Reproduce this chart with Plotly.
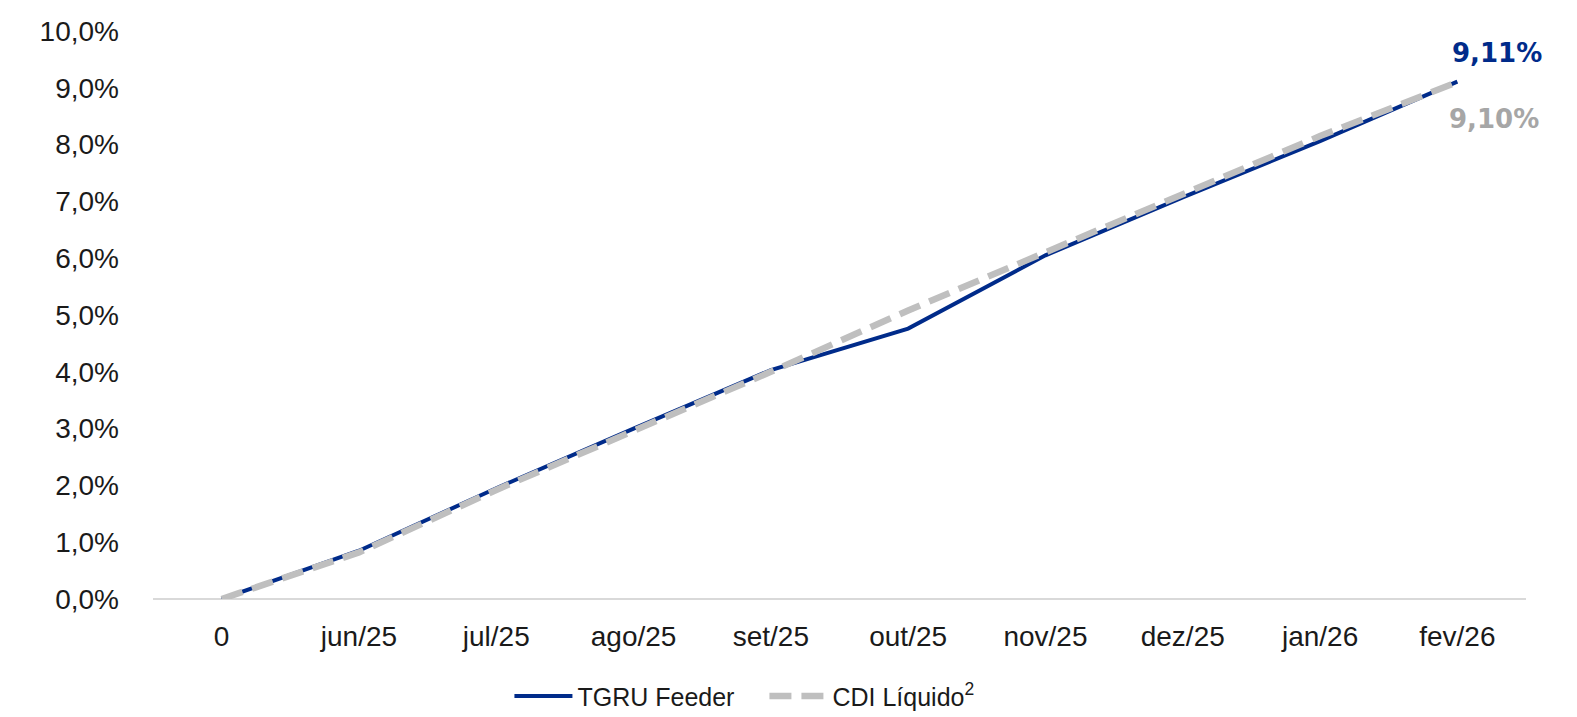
import plotly.graph_objects as go

categories = ["0", "jun/25", "jul/25", "ago/25", "set/25", "out/25", "nov/25", "dez/25", "jan/26", "fev/26"]
tgru = [0.0, 0.85, 1.95, 3.0, 4.03, 4.76, 6.05, 7.07, 8.06, 9.11]
cdi = [0.0, 0.82, 1.92, 2.95, 4.0, 5.08, 6.1, 7.15, 8.15, 9.10]
y_ticks = [0, 1, 2, 3, 4, 5, 6, 7, 8, 9, 10]
y_tick_labels = [f"{v},0%" for v in y_ticks]

NAVY = "#002B8A"
GREY = "#BFBFBF"
FONT = "Liberation Sans"

fig = go.Figure()
fig.add_trace(go.Scatter(x=categories, y=tgru, mode="lines", name="TGRU Feeder",
                         line=dict(color=NAVY, width=4)))
fig.add_trace(go.Scatter(x=categories, y=cdi, mode="lines", name="CDI Líquido<sup>2</sup>",
                         line=dict(color=GREY, width=6.5, dash="22px,10px")))

fig.add_annotation(x=categories[-1], y=tgru[-1], text="<b>9,11%</b>", showarrow=False,
                   xshift=40, yshift=29, font=dict(family="DejaVu Sans", size=26, color=NAVY))
fig.add_annotation(x=categories[-1], y=cdi[-1], text="<b>9,10%</b>", showarrow=False,
                   xshift=37, yshift=-37, font=dict(family="DejaVu Sans", size=26, color="#A6A6A6"))

fig.update_layout(
    width=1577, height=717,
    margin=dict(l=153, r=51, t=31, b=118, autoexpand=False),
    plot_bgcolor="white", paper_bgcolor="white",
    font=dict(family=FONT, size=28, color="#1a1a1a"),
    showlegend=True,
    legend=dict(orientation="h", x=0.2596, xanchor="left", y=-0.171, yanchor="middle",
                font=dict(family=FONT, size=25, color="#1a1a1a"), itemwidth=58,
                entrywidth=182, entrywidthmode="pixels"),
    xaxis=dict(type="category", range=[-0.5, 9.5], showgrid=False, showline=False,
               zeroline=False, ticks="", tickfont=dict(size=28), ticklabelstandoff=18,
               automargin=False),
    yaxis=dict(range=[0, 10], tickvals=y_ticks, ticktext=y_tick_labels, showgrid=False,
               zeroline=True, zerolinecolor="#D9D9D9", zerolinewidth=1.5, showline=False,
               ticks="", tickfont=dict(size=28), ticklabelstandoff=33, automargin=False),
)

fig.write_html("out.html", config={"displayModeBar": False},
               post_script="document.body.style.margin='0';document.body.style.overflow='hidden';")
